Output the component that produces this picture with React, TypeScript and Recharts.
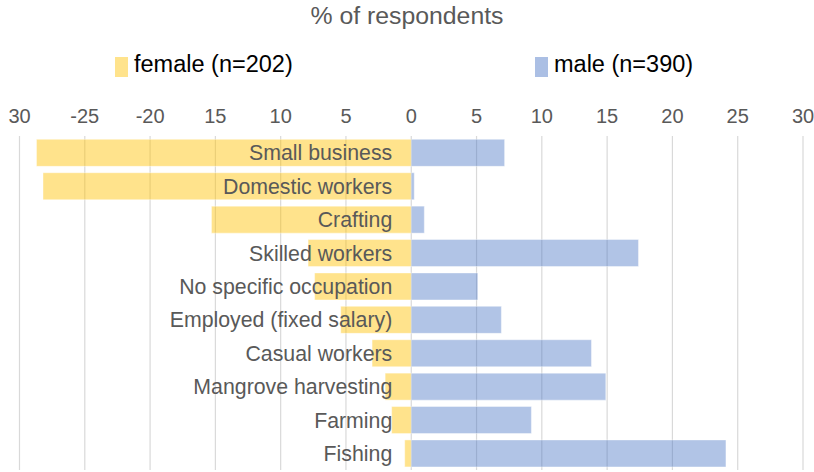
import React from 'react';
import { BarChart, Bar, XAxis, YAxis, CartesianGrid, Legend, LabelList } from 'recharts';

const CATEGORIES = [
  'Small business',
  'Domestic workers',
  'Crafting',
  'Skilled workers',
  'No specific occupation',
  'Employed (fixed salary)',
  'Casual workers',
  'Mangrove harvesting',
  'Farming',
  'Fishing',
];
const FEMALE = [28.7, 28.2, 15.3, 7.9, 7.4, 5.4, 3.0, 2.0, 1.5, 0.5];
const MALE = [7.15, 0.23, 1.0, 17.4, 5.1, 6.9, 13.8, 14.9, 9.2, 24.1];
const TICKS = [-30, -25, -20, -15, -10, -5, 0, 5, 10, 15, 20, 25, 30];
const TICK_LABELS = ['30', '-25', '-20', '15', '10', '5', '0', '5', '10', '15', '20', '25', '30'];

const FEMALE_NAME = 'female (n=202)';
const MALE_NAME = 'male (n=390)';

const data = CATEGORIES.map((name, i) => ({
  name,
  female: -FEMALE[i],
  male: MALE[i],
}));

const FONT = '"Liberation Sans", Arial, sans-serif';
const TEXT = '#595959';

const CategoryLabel = (props: any) => {
  const { x, y, height, value } = props;
  return (
    <text
      x={x - 19}
      y={y + height / 2 + 7.5}
      textAnchor="end"
      fill={TEXT}
      fontSize={21.3}
      fontFamily={FONT}
    >
      {value}
    </text>
  );
};

const legendPos: Record<string, number> = {
  [FEMALE_NAME]: 115,
  [MALE_NAME]: 535,
};

const renderLegend = (props: any) => {
  const { payload } = props;
  return (
    <div style={{ position: 'relative', width: 814, height: 100 }}>
      {payload.map((p: any) => (
        <div key={p.value} style={{ position: 'absolute', left: legendPos[p.value], top: 0 }}>
          <div
            style={{
              position: 'absolute',
              left: 0,
              top: 57,
              width: 13,
              height: 20,
              background: p.color,
              opacity: 0.45,
            }}
          />
          <div
            style={{
              position: 'absolute',
              left: 19,
              top: 53.1,
              whiteSpace: 'nowrap',
              fontSize: 23.5,
              lineHeight: '23.5px',
              fontFamily: FONT,
              color: '#000',
            }}
          >
            {p.value}
          </div>
        </div>
      ))}
    </div>
  );
};

export default function App() {
  return (
    <div style={{ position: 'absolute', left: 0, top: 0, width: 814, height: 472, background: '#fff' }}>
      <div
        style={{
          position: 'absolute',
          left: 0,
          top: 4,
          width: 814,
          textAlign: 'center',
          fontSize: 24.8,
          lineHeight: '24.8px',
          fontFamily: FONT,
          color: TEXT,
          zIndex: 2,
        }}
      >
        % of respondents
      </div>
      <BarChart
        width={814}
        height={472}
        data={data}
        layout="vertical"
        stackOffset="sign"
        barCategoryGap="10%"
        margin={{ top: 106, right: 11, bottom: 2, left: 19.5 }}
      >
        <CartesianGrid horizontal={false} stroke="#D9D9D9" strokeWidth={1.2} />
        <XAxis
          type="number"
          orientation="top"
          domain={[-30, 30]}
          ticks={TICKS}
          tickFormatter={(v: number) => TICK_LABELS[TICKS.indexOf(v)]}
          axisLine={false}
          tickLine={false}
          tickSize={6}
          tickMargin={7}
          height={30}
          interval={0}
          tick={{ fill: TEXT, fontSize: 20, fontFamily: FONT }}
        />
        <YAxis type="category" dataKey="name" hide />
        <Legend
          layout="horizontal"
          verticalAlign="middle"
          align="center"
          content={renderLegend}
          wrapperStyle={{ top: 0, left: 0, width: 814, height: 100 }}
        />
        <Bar
          dataKey="female"
          name={FEMALE_NAME}
          stackId="a"
          fill="#FFC000"
          fillOpacity={0.45}
          stroke="#ffffff"
          strokeOpacity={0.5}
          strokeWidth={0.8}
          isAnimationActive={false}
        />
        <Bar
          dataKey="male"
          name={MALE_NAME}
          stackId="a"
          fill="#4472C4"
          fillOpacity={0.42}
          stroke="#ffffff"
          strokeOpacity={0.5}
          strokeWidth={0.8}
          isAnimationActive={false}
        >
          <LabelList dataKey="name" content={CategoryLabel} />
        </Bar>
      </BarChart>
    </div>
  );
}
